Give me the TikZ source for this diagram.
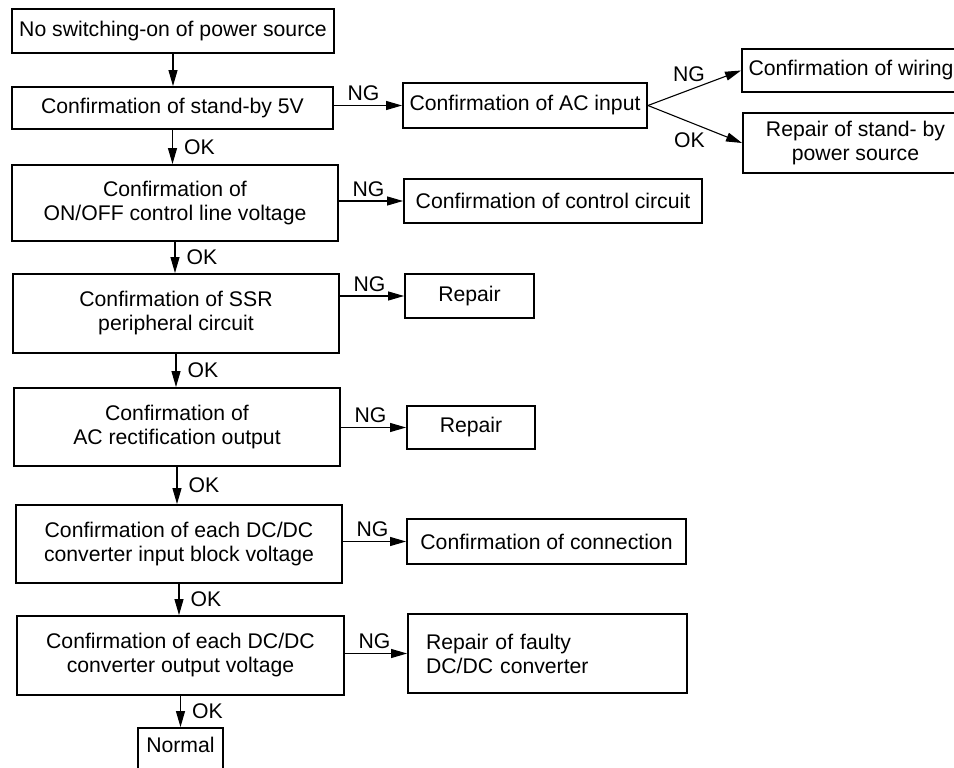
\documentclass[tikz,border=0pt]{standalone}
\usepackage{fontspec}
\setmainfont{Liberation Sans}
\usetikzlibrary{arrows.meta}
\begin{document}
\begin{tikzpicture}[x=1pt,y=-1pt,
  txt/.style={font=\fontsize{21.2}{24}\selectfont},
  box/.style={txt, draw, line width=1.9pt, inner sep=0pt, align=center},
  link/.style={line width=1.1pt, -{Triangle[length=16pt,width=9pt]}},
  lbl/.style={txt, inner sep=0pt},
  ok/.style={lbl, anchor=west, pos=0.5, xshift=11pt},
  ng/.style={lbl, anchor=south west, pos=0, xshift=13pt, yshift=4pt}
]
\useasboundingbox (0,0) rectangle (954,768);
\fill[white] (0,0) rectangle (954,768);
\clip (0,0) rectangle (954,768);

% main column
\node[box, minimum width=322pt, minimum height=44pt] (b1) at (173,31) {No switching-on of power source};
\node[box, minimum width=321pt, minimum height=42pt] (b2) at (172.5,108) {Confirmation of stand-by 5V};
\node[box, minimum width=326pt, minimum height=76pt] (b3) at (175,203) {Confirmation of\\ON/OFF control line voltage};
\node[box, minimum width=326pt, minimum height=79pt] (b4) at (176,313.5) {Confirmation of SSR\\peripheral circuit};
\node[box, minimum width=326pt, minimum height=78pt] (b5) at (177,427) {Confirmation of\\AC rectification output};
\node[box, minimum width=326pt, minimum height=78pt] (b6) at (179,544) {Confirmation of each DC/DC\\converter input block voltage};
\node[box, minimum width=327pt, minimum height=79pt] (b7) at (180.5,655.5) {Confirmation of each DC/DC\\converter output voltage};
\node[box, minimum width=85pt, minimum height=47pt, text depth=14pt] (bn) at (180.5,751.5) {Normal};

% branch boxes
\node[box, minimum width=244pt, minimum height=45pt] (ac) at (525,105.5) {Confirmation of AC input};
\node[box, minimum width=218pt, minimum height=43pt] (wire) at (851,70.5) {Confirmation of wiring};
\node[box, minimum width=225pt, minimum height=60pt] (stby) at (855.5,143) {Repair of stand- by\\power source};
\node[box, minimum width=298pt, minimum height=44pt] (ctrl) at (553,201) {Confirmation of control circuit};
\node[box, minimum width=129pt, minimum height=44pt] (rep1) at (469.5,296) {Repair};
\node[box, minimum width=128pt, minimum height=43pt] (rep2) at (471,427.5) {Repair};
\node[box, minimum width=279pt, minimum height=45pt] (conn) at (546.5,541.5) {Confirmation of connection};
\node[box, minimum height=79pt, text width=243pt, inner xsep=18pt, align=left] (fault) at (547.5,653.5) {Repair of faulty\\DC/DC converter};

% main flow
\draw[link] (b1.south) -- (b1.south |- b2.north);
\draw[link] (b2.south) -- node[ok]{OK} (b2.south |- b3.north);
\draw[link] (b3.south) -- node[ok]{OK} (b3.south |- b4.north);
\draw[link] (b4.south) -- node[ok]{OK} (b4.south |- b5.north);
\draw[link] (b5.south) -- node[ok]{OK} (b5.south |- b6.north);
\draw[link] (b6.south) -- node[ok]{OK} (b6.south |- b7.north);
\draw[link] (b7.south) -- node[ok]{OK} (b7.south |- bn.north);

% NG branches
\draw[link] (b2.east |- ac.west) -- node[ng]{NG} (ac.west);
\draw[link] (b3.east |- ctrl.west) -- node[ng]{NG} (ctrl.west);
\draw[link] (b4.east |- rep1.west) -- node[ng]{NG} (rep1.west);
\draw[link] (b5.east |- rep2.west) -- node[ng]{NG} (rep2.west);
\draw[link] (b6.east |- conn.west) -- node[ng]{NG} (conn.west);
\draw[link] (b7.east |- fault.west) -- node[ng]{NG} (fault.west);

% AC input outcomes
\draw[link] (ac.east) -- node[lbl, pos=0.44, anchor=south, yshift=8pt]{NG} (wire.west);
\draw[link] (ac.east) -- node[lbl, pos=0.44, anchor=north, yshift=-10pt]{OK} (stby.west);
\end{tikzpicture}
\end{document}
